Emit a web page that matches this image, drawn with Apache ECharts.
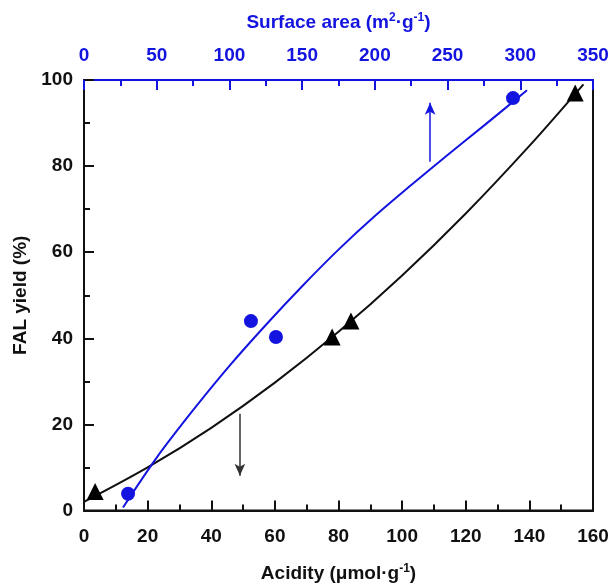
<!DOCTYPE html>
<html lang="en" style="height:100%">
  <head>
    <meta http-equiv="Content-Type" content="text/html; charset=utf-8">
    <title>FAL yield</title>
    <script type="text/javascript" src="https://cdn.jsdelivr.net/npm/echarts@6/dist/echarts.min.js"></script>
    <style>
      html, body { margin:0; padding:0; background:#fff; }
      #chart { width:613px; height:588px; }
    </style>
  </head>
  <body>
    <div id="chart"></div>
    <script type="text/javascript">
      // 酸度 (umol/g) vs FAL yield, 黑色三角
      var acidityPts = [[3.5, 4.4], [78, 40.3], [83.9, 44], [154.4, 97]];
      // 比表面积 (m2/g) vs FAL yield, 蓝色圆点
      var surfacePts = [[30.3, 3.9], [114.8, 44], [132, 40.3], [295, 95.8]];
      // 拟合曲线（从图上读出的点）
      var acidityFit = [[0, 2.0], [20, 10.0], [40, 19.2], [60, 29.7], [80, 41.5],
                        [100, 54.6], [120, 69.0], [140, 84.7], [157, 99]];
      var surfaceFit = [[26.8, 0.7], [50, 12.3], [75, 23.3], [100, 33.6], [125, 43.1], [150, 52.1],
                        [175, 60.6], [200, 68.4], [225, 75.6], [250, 82.6], [275, 89.4], [304.6, 97.6]];
      // 箭头
      var acidityArrow = [[49, 22.5], [49, 8.1]];
      var surfaceArrow = [[238, 81], [238, 94.7]];

      var BLUE = '#1414e0';
      var BLACK = '#111';
      var FONT = 'Liberation Sans';

      var chart = echarts.init(document.getElementById('chart'));
      var labelStyle = {fontFamily: FONT, fontWeight: 'bold', fontSize: 19};
      var option = {
        animation: false,
        grid: {left: 84, right: 20, top: 80, bottom: 76, show: true, borderColor: BLACK, borderWidth: 2},
        xAxis: [{
          type: 'value', position: 'bottom', min: 0, max: 160, interval: 20,
          name: '{a|Acidity (μmol·g}{s|-1}{a|)}', nameLocation: 'middle', nameGap: 52,
          nameTextStyle: {rich: {
            a: {fontFamily: FONT, fontWeight: 'bold', fontSize: 19, color: BLACK},
            s: {fontFamily: FONT, fontWeight: 'bold', fontSize: 12, color: BLACK, padding: [0, 0, 10, 0]}
          }},
          axisLine: {lineStyle: {color: BLACK, width: 2}},
          axisTick: {inside: true, length: 10, lineStyle: {width: 2}},
          minorTick: {show: true, splitNumber: 2, length: 6, lineStyle: {color: BLACK, width: 2}},
          axisLabel: Object.assign({color: BLACK, margin: 17}, labelStyle),
          splitLine: {show: false}
        }, {
          type: 'value', position: 'top', min: 0, max: 350, interval: 50,
          name: '{a|Surface area (m}{s|2}{a|·g}{s|-1}{a|)}', nameLocation: 'middle', nameGap: 46,
          nameTextStyle: {rich: {
            a: {fontFamily: FONT, fontWeight: 'bold', fontSize: 19, color: BLUE},
            s: {fontFamily: FONT, fontWeight: 'bold', fontSize: 12, color: BLUE, padding: [0, 0, 10, 0]}
          }},
          axisLine: {lineStyle: {color: BLUE, width: 2}},
          axisTick: {inside: true, length: 10, lineStyle: {width: 2}},
          minorTick: {show: true, splitNumber: 2, length: 6, lineStyle: {color: BLUE, width: 2}},
          axisLabel: Object.assign({color: BLUE, margin: 15}, labelStyle),
          splitLine: {show: false}
        }],
        yAxis: [{
          type: 'value', min: 0, max: 100, interval: 20,
          name: 'FAL yield (%)', nameLocation: 'middle', nameGap: 44,
          nameTextStyle: {fontFamily: FONT, fontWeight: 'bold', fontSize: 19, color: BLACK},
          axisLine: {show: true, lineStyle: {color: BLACK, width: 2}},
          axisTick: {show: true, inside: true, length: 10, lineStyle: {width: 2}},
          minorTick: {show: true, splitNumber: 2, length: 6, lineStyle: {color: BLACK, width: 2}},
          axisLabel: Object.assign({color: BLACK, margin: 11}, labelStyle),
          splitLine: {show: false}
        }],
        series: [{
          type: 'line', xAxisIndex: 0, data: acidityFit, smooth: 0.3, showSymbol: false,
          lineStyle: {color: BLACK, width: 2}, z: 2,
          markLine: {
            silent: true, symbol: ['none', 'arrow'], symbolSize: [8, 12],
            label: {show: false}, lineStyle: {color: '#333', width: 1.5, type: 'solid'},
            data: [[{coord: acidityArrow[0]}, {coord: acidityArrow[1]}]]
          }
        }, {
          type: 'line', xAxisIndex: 1, data: surfaceFit, smooth: 0.3, showSymbol: false,
          lineStyle: {color: BLUE, width: 2}, z: 2,
          markLine: {
            silent: true, symbol: ['none', 'arrow'], symbolSize: [8, 12],
            label: {show: false}, lineStyle: {color: BLUE, width: 1.5, type: 'solid'},
            data: [[{coord: surfaceArrow[0]}, {coord: surfaceArrow[1]}]]
          }
        }, {
          type: 'scatter', xAxisIndex: 0, data: acidityPts, symbol: 'triangle', symbolSize: 17,
          itemStyle: {color: '#000', opacity: 1}, z: 3
        }, {
          type: 'scatter', xAxisIndex: 1, data: surfacePts, symbol: 'circle', symbolSize: 14,
          itemStyle: {color: BLUE, opacity: 1}, z: 3
        }]
      };
      chart.setOption(option);
    </script>
  </body>
</html>
